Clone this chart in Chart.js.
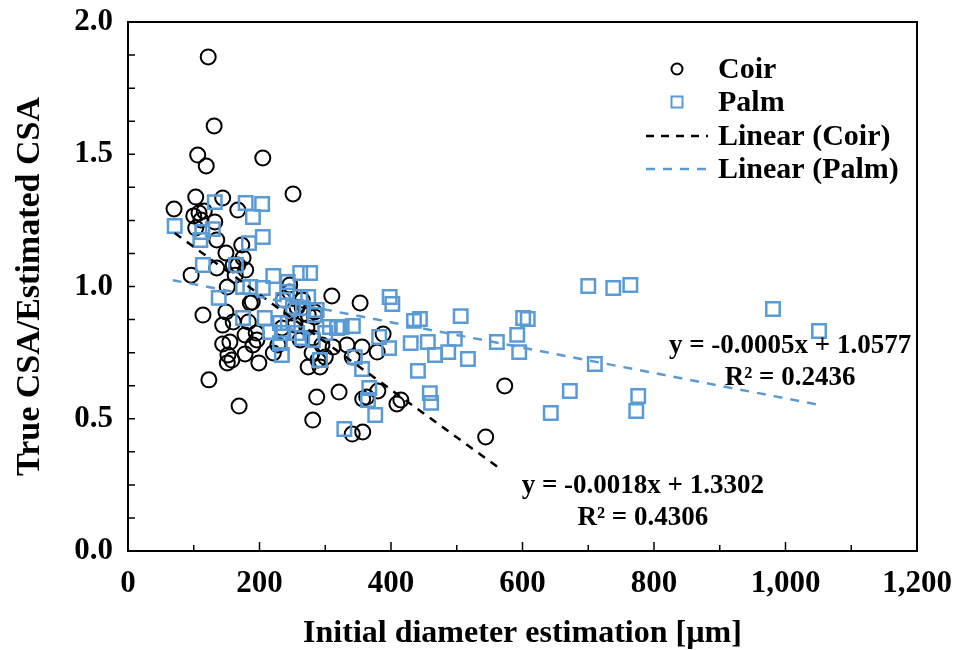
<!DOCTYPE html>
<html><head><meta charset="utf-8">
<script src="https://cdn.jsdelivr.net/npm/chart.js@4"></script>
<style>html,body{margin:0;padding:0;background:#fff}#wrap{width:953px;height:650px;position:relative}</style>
</head><body><div id="wrap"><canvas id="c" width="953" height="650"></canvas></div>
<script>
// ---- data ----
const coirX = [122,131,106,119,205,251,103,144,70,167,100,108,116,111,103,132,135,173,149,175,160,135,179,96,163,151,189,246,265,114,149,144,183,195,144,152,178,199,190,221,262,274,284,274,280,287,257,123,169,281,310,353,388,379,292,300,312,333,356,321,357,363,380,409,415,341,357,544,573,167,186,236,160,196,178,155,158,228,281,295,289,341,249,265,284,254,272,234,246,151];
const coirY = [1.868,1.607,1.497,1.456,1.486,1.350,1.338,1.335,1.293,1.289,1.267,1.278,1.285,1.251,1.221,1.244,1.176,1.157,1.127,1.108,1.081,1.070,1.062,1.043,1.043,0.998,0.941,1.006,0.949,0.892,0.904,0.854,0.866,0.824,0.783,0.741,0.745,0.711,0.779,0.749,0.798,0.892,0.904,0.696,0.749,0.582,0.922,0.647,0.548,0.495,0.964,0.938,0.820,0.752,0.696,0.733,0.771,0.779,0.771,0.601,0.575,0.582,0.605,0.556,0.571,0.442,0.450,0.431,0.624,1.081,0.938,0.949,0.866,0.798,0.817,0.790,0.722,0.779,0.805,0.779,0.722,0.733,0.900,0.919,0.885,0.854,0.843,0.843,0.979,0.711];
const palmX = [132,179,204,190,71,113,129,110,205,184,114,164,221,262,277,243,175,186,205,138,242,262,274,236,251,266,287,175,208,231,243,216,234,257,231,265,281,234,292,284,307,318,325,342,300,398,402,435,444,506,382,397,430,456,497,467,487,517,561,345,356,441,367,365,376,459,461,329,700,738,764,601,608,592,595,710,672,643,776,773,981,1051];
const palmY = [1.319,1.316,1.312,1.263,1.229,1.206,1.217,1.176,1.187,1.164,1.081,1.081,1.040,1.051,1.051,1.017,0.998,0.998,0.994,0.957,0.979,0.960,0.960,0.949,0.922,0.919,0.911,0.881,0.881,0.862,0.862,0.828,0.824,0.824,0.786,0.805,0.798,0.741,0.722,0.892,0.847,0.843,0.847,0.851,0.824,0.960,0.934,0.870,0.877,0.888,0.809,0.767,0.786,0.790,0.802,0.741,0.752,0.726,0.790,0.733,0.688,0.681,0.616,0.571,0.514,0.597,0.560,0.461,1.002,0.994,1.006,0.881,0.877,0.817,0.752,0.707,0.605,0.522,0.586,0.529,0.915,0.832];
const coirFitX = [71, 566];
const coirFitY = [1.202, 0.311];
const palmFitX = [68, 1052];
const palmFitY = [1.024, 0.552];
const seriesNames = ['Coir', 'Palm', 'Linear (Coir)', 'Linear (Palm)'];
const coirEquation = ['y = -0.0018x + 1.3302', 'R² = 0.4306'];
const palmEquation = ['y = -0.0005x + 1.0577', 'R² = 0.2436'];
const coirEqAnchor = [783, 0.246];
const palmEqAnchor = [1007, 0.775];
const xRange = [0, 1200], xStep = 200, xMinor = 100;
const yRange = [0, 2], yStep = 0.5, yMinor = 0.125;
const xTitle = 'Initial diameter estimation [µm]';
const yTitle = 'True CSA/Estimated CSA';

const FONT = "'Liberation Serif', 'Times New Roman', serif";
const BLUE = '#5B9BD5';
const zip = (xs, ys) => xs.map((v, i) => ({x: v, y: ys[i]}));
const noPad = s => { s.paddingTop = 0; s.paddingBottom = 0; s.paddingLeft = 0; s.paddingRight = 0; };

const frameAndTicks = {
  id: 'frameAndTicks',
  afterDraw(chart) {
    const {ctx, chartArea: a, scales: {x, y}} = chart;
    ctx.save();
    ctx.strokeStyle = '#000';
    ctx.lineWidth = 2;
    ctx.strokeRect(a.left, a.top, a.right - a.left, a.bottom - a.top);
    ctx.lineWidth = 1.5;
    ctx.beginPath();
    for (let v = xRange[0]; v <= xRange[1]; v += xMinor) {
      const px = x.getPixelForValue(v);
      const len = (v % xStep === 0) ? 9 : 6;
      ctx.moveTo(px, a.bottom); ctx.lineTo(px, a.bottom - len);
    }
    for (let v = yRange[0]; v <= yRange[1] + 1e-9; v += yMinor) {
      const py = y.getPixelForValue(v);
      ctx.moveTo(a.left, py); ctx.lineTo(a.left + 7, py);
    }
    ctx.stroke();

    // legend
    const ds = chart.data.datasets;
    const rowY = [a.top + 47, a.top + 80, a.top + 114, a.top + 147];
    const mx = a.right - 240, tx = a.right - 199;
    ctx.font = "bold 30px " + FONT;
    ctx.textBaseline = 'middle';
    ctx.textAlign = 'left';
    ctx.fillStyle = '#000';
    ds.forEach((d, i) => {
      const yy = rowY[i];
      ctx.save();
      ctx.strokeStyle = d.borderColor;
      if (d.showLine === false) {
        ctx.lineWidth = 2;
        ctx.beginPath();
        if (d.pointStyle === 'circle') ctx.arc(mx, yy, 5.5, 0, Math.PI * 2);
        else ctx.rect(mx - 5.5, yy - 5.5, 11, 11);
        ctx.stroke();
      } else {
        ctx.lineWidth = 2.5;
        ctx.setLineDash(d.borderDash);
        ctx.beginPath();
        ctx.moveTo(a.right - 271, yy); ctx.lineTo(a.right - 209, yy);
        ctx.stroke();
      }
      ctx.restore();
      ctx.fillText(d.label, tx, yy + 1);
    });

    // equations
    ctx.font = "bold 27px " + FONT;
    ctx.textAlign = 'center';
    const eq = (lines, anchor) => {
      const px = x.getPixelForValue(anchor[0]);
      const py = y.getPixelForValue(anchor[1]);
      lines.forEach((t, i) => ctx.fillText(t, px, py + i * 32));
    };
    eq(palmEquation, palmEqAnchor);
    eq(coirEquation, coirEqAnchor);
    ctx.restore();
  }
};

new Chart(document.getElementById('c'), {
  type: 'scatter',
  data: {
    datasets: [
      {label: seriesNames[0], data: zip(coirX, coirY), showLine: false, pointStyle: 'circle', pointRadius: 7.5, borderColor: '#000', backgroundColor: 'rgba(0,0,0,0)', borderWidth: 2, order: 3},
      {label: seriesNames[1], data: zip(palmX, palmY), showLine: false, pointStyle: 'rect', pointRadius: 9.5, borderColor: BLUE, backgroundColor: 'rgba(0,0,0,0)', borderWidth: 2.5, order: 2},
      {label: seriesNames[2], type: 'line', data: zip(coirFitX, coirFitY), showLine: true, borderColor: '#000', borderWidth: 2.5, borderDash: [8, 7], pointRadius: 0, fill: false, order: 1},
      {label: seriesNames[3], type: 'line', data: zip(palmFitX, palmFitY), showLine: true, borderColor: BLUE, borderWidth: 2.5, borderDash: [9, 8], pointRadius: 0, fill: false, order: 0}
    ]
  },
  options: {
    responsive: false,
    devicePixelRatio: 1,
    animation: false,
    events: [],
    layout: {padding: {top: 22, right: 36, left: 0, bottom: 0}},
    plugins: {legend: {display: false}, tooltip: {enabled: false}},
    scales: {
      x: {
        type: 'linear', min: xRange[0], max: xRange[1],
        ticks: {stepSize: xStep, color: '#000', padding: 14, font: {family: FONT, size: 31, weight: 'bold'},
          callback: v => v.toLocaleString('en-US')},
        grid: {display: false, drawTicks: false},
        border: {display: false},
        title: {display: true, text: xTitle, color: '#000', font: {family: FONT, size: 32, weight: 'bold'}, padding: {top: 0, bottom: -3}},
        afterFit: s => { s.height = 99; noPad(s); }
      },
      y: {
        type: 'linear', min: yRange[0], max: yRange[1],
        ticks: {stepSize: yStep, color: '#000', padding: 15, font: {family: FONT, size: 31, weight: 'bold'},
          callback: v => v.toFixed(1)},
        grid: {display: false, drawTicks: false},
        border: {display: false},
        title: {display: true, text: yTitle, color: '#000', font: {family: FONT, size: 34, weight: 'bold'}, padding: {top: 10, bottom: 0}},
        afterFit: s => { s.width = 128; noPad(s); }
      }
    }
  },
  plugins: [frameAndTicks]
});
</script>
</body></html>
